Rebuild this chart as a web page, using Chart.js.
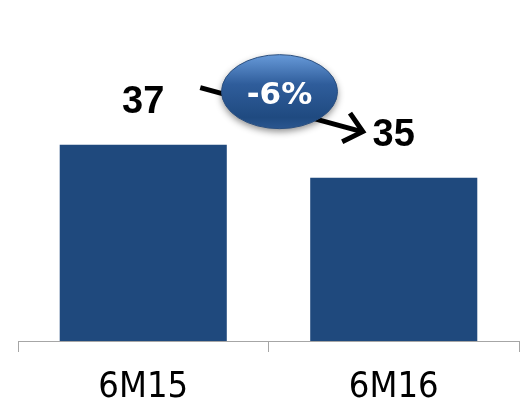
<!DOCTYPE html>
<html lang="en">
<head>
    <meta charset="UTF-8">
    <title>6M15 vs 6M16</title>
    <script src="https://cdn.jsdelivr.net/npm/chart.js"></script>
    <style>
        html, body { margin: 0; padding: 0; background: #ffffff; }
        #wrap { width: 520px; height: 411px; }
    </style>
</head>
<body>
    <div id="wrap"><canvas id="barChart" width="520" height="411"></canvas></div>
    <script>
        // datos del grafico
        var categorias = ['6M15', '6M16'];
        var valores = [37, 35];
        var etiquetaCambio = '-6%';

        var azulBarra = '#1f497d';

        // etiquetas de valor encima de cada barra + flecha con elipse
        var anotaciones = {
            id: 'anotaciones',
            afterDatasetsDraw: function(chart) {
                var ctx = chart.ctx;
                var barras = chart.getDatasetMeta(0).data;
                var b0 = barras[0], b1 = barras[1];

                ctx.save();
                // valores
                ctx.fillStyle = '#000000';
                ctx.font = 'bold 38px "Liberation Sans", Arial, sans-serif';
                ctx.textAlign = 'center';
                ctx.textBaseline = 'middle';
                for (var i = 0; i < barras.length; i++) {
                    ctx.fillText(String(valores[i]), barras[i].x, barras[i].y - 42);
                }

                // flecha
                var x0 = b0.x + 57, y0 = b0.y - 57;
                var x1 = b1.x - 32, y1 = b1.y - 46;
                ctx.strokeStyle = '#000000';
                ctx.lineWidth = 5;
                ctx.lineCap = 'butt';
                ctx.beginPath();
                ctx.moveTo(x0, y0);
                ctx.lineTo(x1, y1);
                ctx.stroke();
                var ang = Math.atan2(y1 - y0, x1 - x0);
                ctx.lineJoin = 'miter';
                ctx.beginPath();
                ctx.moveTo(x1 + 22 * Math.cos(ang + 2.4), y1 + 22 * Math.sin(ang + 2.4));
                ctx.lineTo(x1 + 1, y1);
                ctx.lineTo(x1 + 22 * Math.cos(ang - 2.4), y1 + 22 * Math.sin(ang - 2.4));
                ctx.stroke();

                // elipse
                var cx = (b0.x + b1.x) / 2 + 11, cy = b0.y - 53;
                var rx = 58, ry = 37;
                var grad = ctx.createLinearGradient(0, cy - ry, 0, cy + ry);
                grad.addColorStop(0, '#679ad9');
                grad.addColorStop(0.4, '#2f5d9b');
                grad.addColorStop(0.85, '#1f4a80');
                grad.addColorStop(1, '#2a5690');
                ctx.shadowColor = 'rgba(0,0,0,0.45)';
                ctx.shadowBlur = 7;
                ctx.shadowOffsetY = 3;
                ctx.fillStyle = grad;
                ctx.beginPath();
                ctx.ellipse(cx, cy, rx, ry, 0, 0, Math.PI * 2);
                ctx.fill();
                ctx.shadowColor = 'transparent';
                ctx.strokeStyle = '#2a4f80';
                ctx.lineWidth = 1;
                ctx.stroke();

                ctx.fillStyle = '#ffffff';
                ctx.font = 'bold 31px "DejaVu Sans", Verdana, sans-serif';
                ctx.fillText(etiquetaCambio, cx, cy + 4);
                ctx.restore();
            }
        };

        var ctxBar = document.getElementById('barChart').getContext('2d');
        var barChart = new Chart(ctxBar, {
            type: 'bar',
            data: {
                labels: categorias,
                datasets: [{
                    data: valores,
                    backgroundColor: azulBarra,
                    borderWidth: 0,
                    barPercentage: 1,
                    categoryPercentage: 0.667
                }]
            },
            options: {
                responsive: false,
                animation: false,
                layout: { padding: { top: 11, left: 18, right: 1, bottom: 0 } },
                plugins: {
                    legend: { display: false },
                    tooltip: { enabled: false }
                },
                scales: {
                    x: {
                        offset: true,
                        afterFit: function(scale) { scale.height = 70; },
                        grid: {
                            offset: true,
                            drawOnChartArea: false,
                            drawTicks: true,
                            tickLength: 11,
                            color: '#a6a6a6',
                            lineWidth: 1
                        },
                        border: { display: true, color: '#a6a6a6', width: 1 },
                        ticks: {
                            color: '#000000',
                            padding: 14,
                            font: { family: '"DejaVu Sans Condensed", "DejaVu Sans", sans-serif', size: 36 }
                        }
                    },
                    y: {
                        display: false,
                        min: 25.1,
                        max: 45.1
                    }
                }
            },
            plugins: [anotaciones]
        });
    </script>
</body>
</html>
